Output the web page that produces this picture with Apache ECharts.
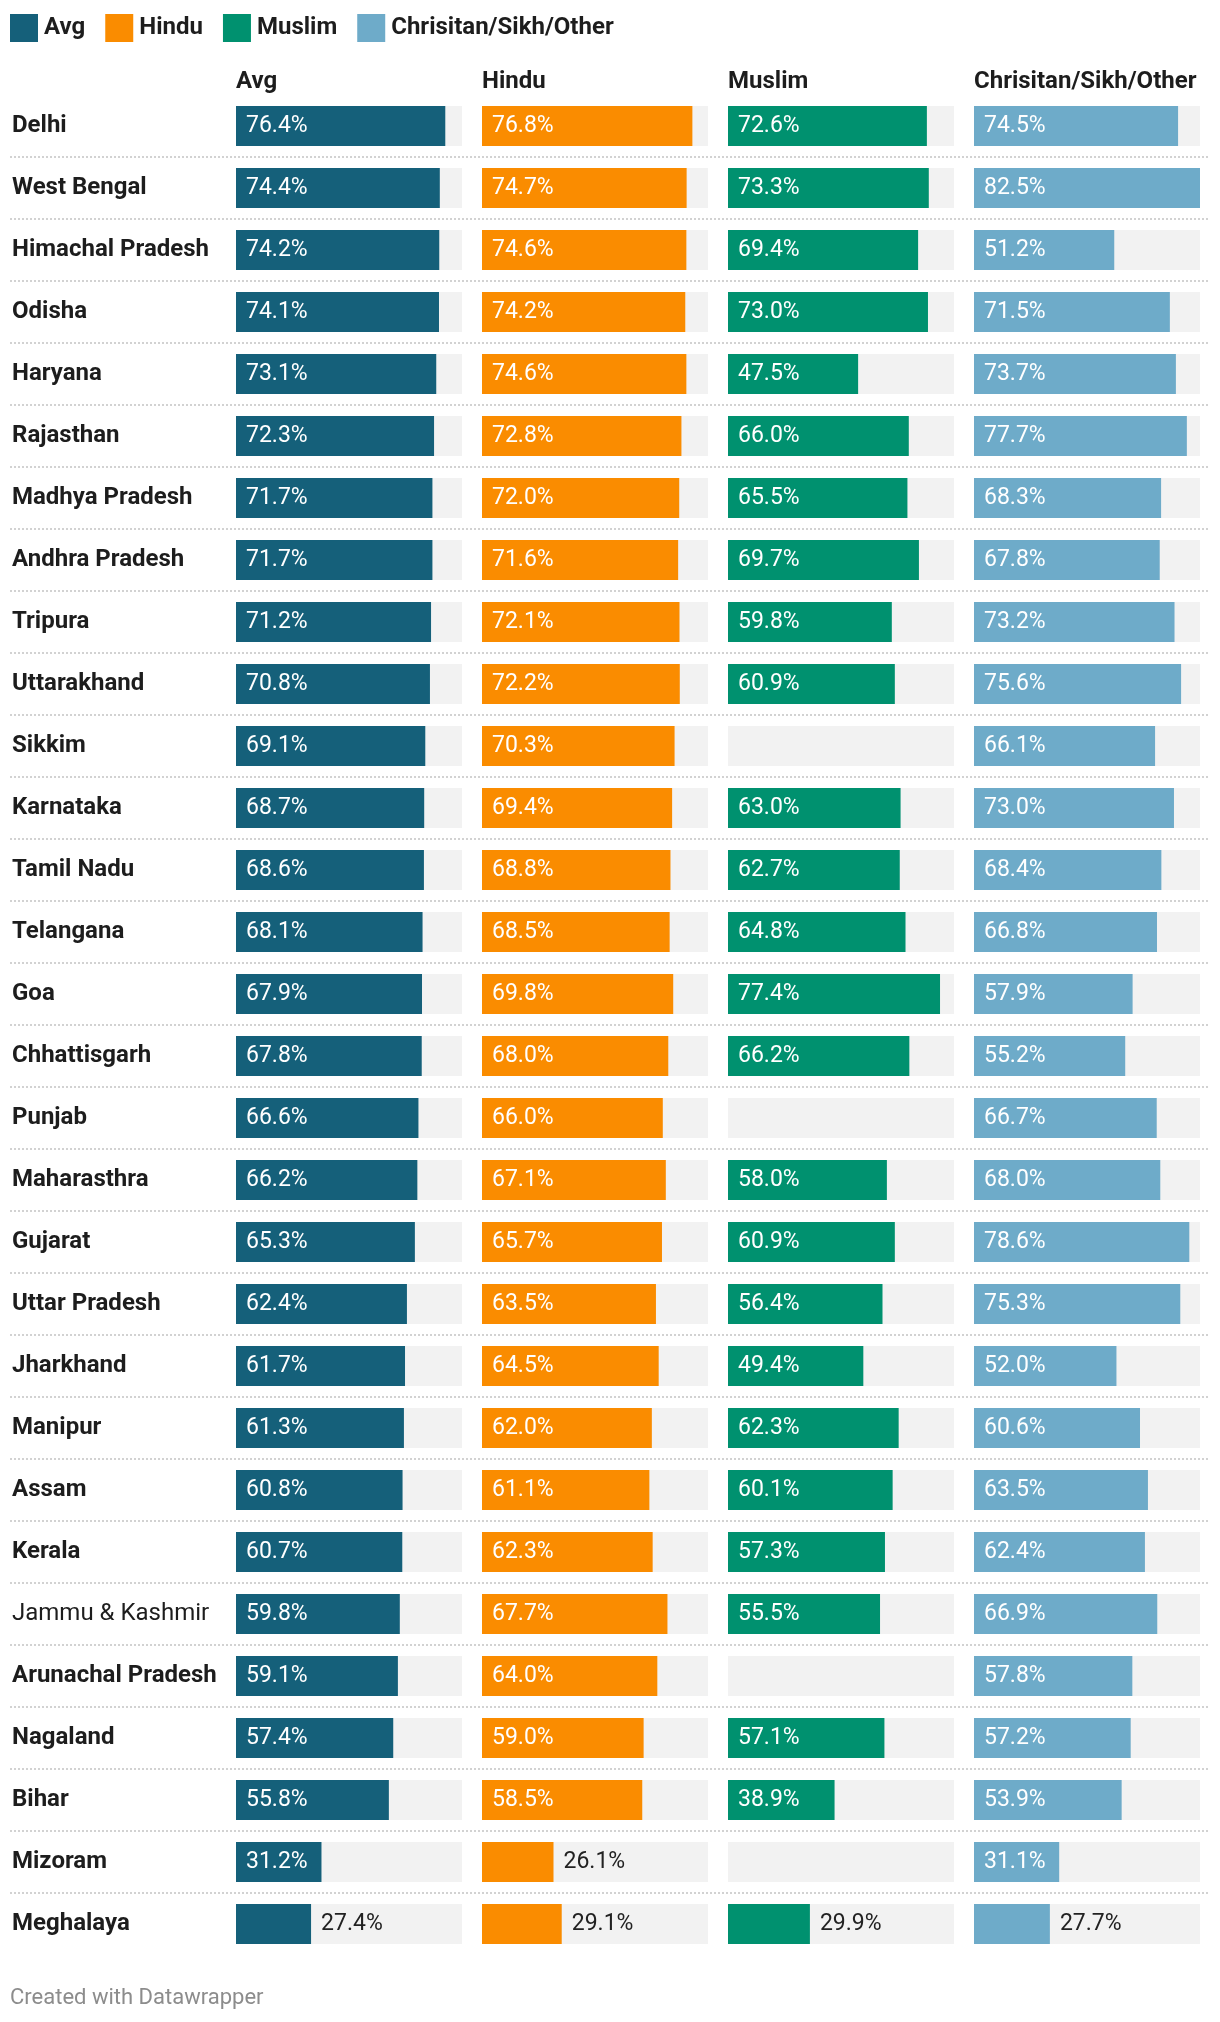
<!DOCTYPE html>
<html>
<head>
<meta charset="utf-8">
<script src="https://cdn.jsdelivr.net/npm/echarts@6/dist/echarts.min.js"></script>
<style>
  html, body { margin: 0; padding: 0; background: #ffffff; }
  #chart { width: 1220px; height: 2022px; }
</style>
</head>
<body>
<div id="chart"></div>
<script>
// ---- DATA ----
const categories = ['Delhi','West Bengal','Himachal Pradesh','Odisha','Haryana','Rajasthan','Madhya Pradesh','Andhra Pradesh','Tripura','Uttarakhand','Sikkim','Karnataka','Tamil Nadu','Telangana','Goa','Chhattisgarh','Punjab','Maharasthra','Gujarat','Uttar Pradesh','Jharkhand','Manipur','Assam','Kerala','Jammu & Kashmir','Arunachal Pradesh','Nagaland','Bihar','Mizoram','Meghalaya'];
const seriesNames = ['Avg', 'Hindu', 'Muslim', 'Chrisitan/Sikh/Other'];
const avg    = [76.4,74.4,74.2,74.1,73.1,72.3,71.7,71.7,71.2,70.8,69.1,68.7,68.6,68.1,67.9,67.8,66.6,66.2,65.3,62.4,61.7,61.3,60.8,60.7,59.8,59.1,57.4,55.8,31.2,27.4];
const hindu  = [76.8,74.7,74.6,74.2,74.6,72.8,72.0,71.6,72.1,72.2,70.3,69.4,68.8,68.5,69.8,68.0,66.0,67.1,65.7,63.5,64.5,62.0,61.1,62.3,67.7,64.0,59.0,58.5,26.1,29.1];
const muslim = [72.6,73.3,69.4,73.0,47.5,66.0,65.5,69.7,59.8,60.9,null,63.0,62.7,64.8,77.4,66.2,null,58.0,60.9,56.4,49.4,62.3,60.1,57.3,55.5,null,57.1,38.9,null,29.9];
const other  = [74.5,82.5,51.2,71.5,73.7,77.7,68.3,67.8,73.2,75.6,66.1,73.0,68.4,66.8,57.9,55.2,66.7,68.0,78.6,75.3,52.0,60.6,63.5,62.4,66.9,57.8,57.2,53.9,31.1,27.7];
const regularWeightLabels = ['Jammu & Kashmir'];
const footerText = 'Created with Datawrapper';

// ---- STYLE / LAYOUT ----
const colors = ['#15607a', '#fa8c00', '#00916f', '#6eabc9'];
const allSeries = [avg, hindu, muslim, other];
const FONT = 'Roboto, "Noto Sans", sans-serif';
const TOP = 95, ROW = 62, BAR = 40;
const COL_LEFT = 236, COL_STEP = 246, COL_W = 226;
const gridHeight = ROW * categories.length;
const maxVal = Math.max(...allSeries.flat().filter(v => v != null));
const INSIDE_MIN = 30;

const grids = [{ left: 10, width: 1198, top: TOP, height: gridHeight }];
const xAxes = [{ gridIndex: 0, type: 'value', show: false, min: 0, max: 1 }];
const yAxes = [{
  gridIndex: 0, type: 'category', data: categories, inverse: true,
  axisLine: { show: false }, axisTick: { show: false },
  axisLabel: {
    inside: true, margin: 2, align: 'left',
    formatter: v => regularWeightLabels.includes(v) ? '{r|' + v + '}' : '{b|' + v + '}',
    rich: {
      b: { fontFamily: FONT, fontSize: 24, fontWeight: 'bold', color: '#1d1d1d' },
      r: { fontFamily: FONT, fontSize: 24, fontWeight: 'normal', color: '#1d1d1d' }
    }
  },
  splitLine: { show: true, showMinLine: false, showMaxLine: false,
    lineStyle: { color: '#d2d2d2', width: 2, type: [2, 2] } }
}];
const series = [];
const graphics = [];

seriesNames.forEach((name, i) => {
  const g = i + 1;
  grids.push({ left: COL_LEFT + COL_STEP * i, width: COL_W, top: TOP, height: gridHeight });
  xAxes.push({ gridIndex: g, type: 'value', show: false, min: 0, max: maxVal });
  yAxes.push({ gridIndex: g, type: 'category', data: categories, inverse: true, show: false });
  series.push({
    name: 'bg' + i, type: 'bar', xAxisIndex: g, yAxisIndex: g, silent: true,
    barWidth: BAR, barGap: '-100%', z: 1,
    itemStyle: { color: '#f2f2f2' },
    data: categories.map(() => maxVal)
  });
  series.push({
    name: name, type: 'bar', xAxisIndex: g, yAxisIndex: g,
    barWidth: BAR, barGap: '-100%', z: 2,
    itemStyle: { color: colors[i] },
    data: allSeries[i].map(v => v == null ? null : {
      value: v,
      label: v >= INSIDE_MIN
        ? { position: 'insideLeft', distance: 10, color: '#ffffff' }
        : { position: 'right', distance: 10, color: '#222222' }
    }),
    label: {
      show: true, fontFamily: FONT, fontSize: 23, fontWeight: 'normal',
      formatter: p => p.value.toFixed(1) + '%'
    }
  });
  graphics.push({
    type: 'text', x: COL_LEFT + COL_STEP * i, y: 82,
    style: { text: name, fontFamily: FONT, fontSize: 24, fontWeight: 'bold', fill: '#1d1d1d', verticalAlign: 'middle' }
  });
});

graphics.push({
  type: 'text', x: 10, y: 1998,
  style: { text: footerText, fontFamily: FONT, fontSize: 22, fill: '#8c8c8c', verticalAlign: 'middle' }
});

const chart = echarts.init(document.getElementById('chart'), null, { renderer: 'canvas' });
chart.setOption({
  animation: false,
  backgroundColor: '#ffffff',
  textStyle: { fontFamily: FONT },
  legend: {
    data: seriesNames, left: 10, top: 14, icon: 'rect',
    itemWidth: 28, itemHeight: 28, itemGap: 20, padding: 0,
    selectedMode: false,
    textStyle: { fontFamily: FONT, fontSize: 24, fontWeight: 'bold', color: '#1d1d1d', padding: [0, 0, 0, 1] }
  },
  grid: grids, xAxis: xAxes, yAxis: yAxes, series: series, graphic: graphics
});
</script>
</body>
</html>
